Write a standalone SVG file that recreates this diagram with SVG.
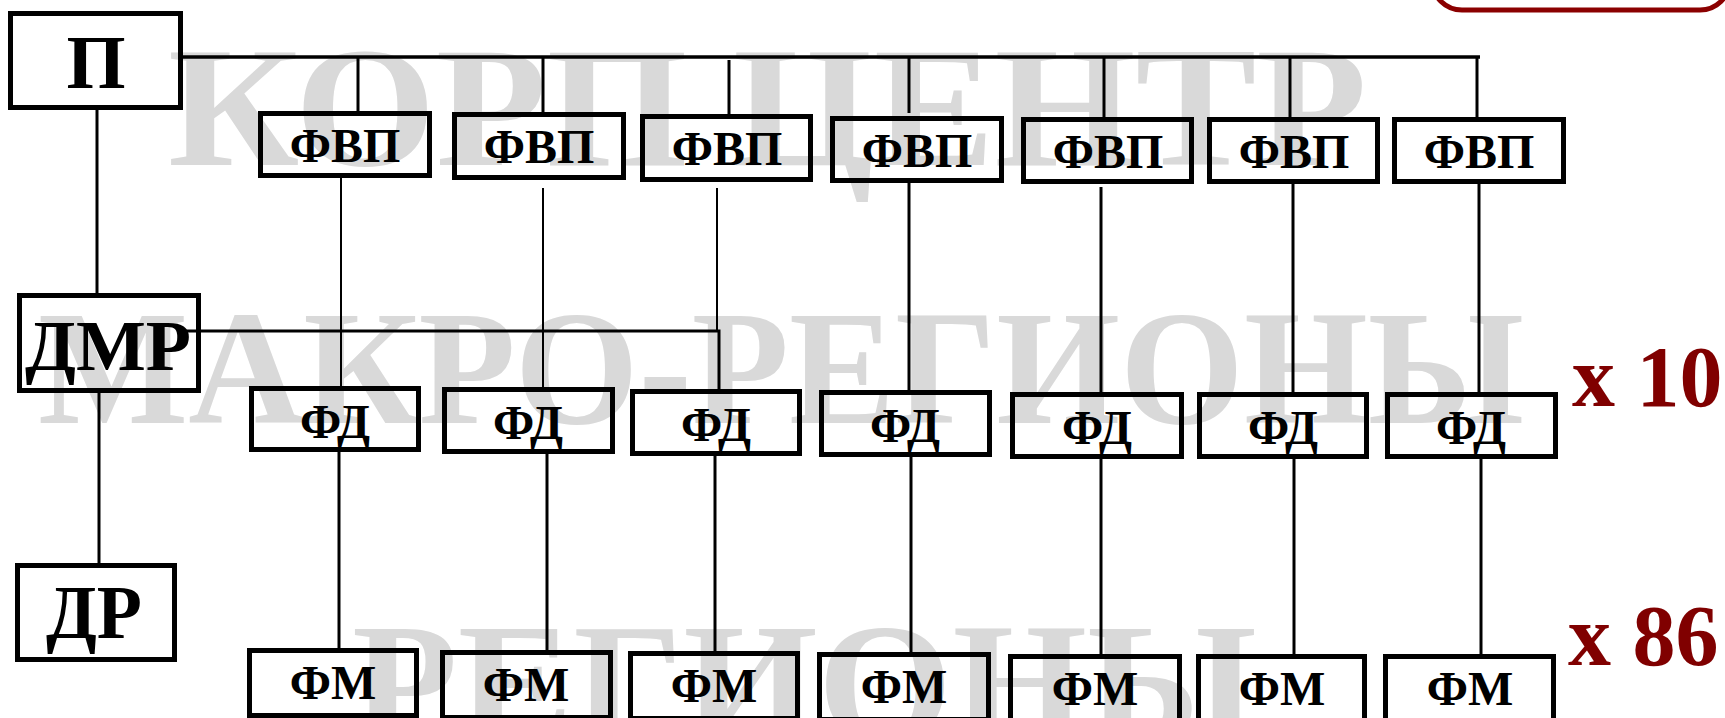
<svg xmlns="http://www.w3.org/2000/svg" width="1725" height="718" viewBox="0 0 1725 718">
<style>
.wm{font-family:"Liberation Serif","Times New Roman",serif;fill:#d9d9d9;font-weight:bold}
.bx{fill:none;stroke:#000;stroke-width:5}
.t{font-family:"Liberation Serif","Times New Roman",serif;font-weight:bold;fill:#000;text-anchor:middle}
.s{font-size:48px}
.L{font-size:76px}
.red{font-family:"Liberation Serif","Times New Roman",serif;font-weight:bold;fill:#800000;font-size:86px}
.c{stroke:#000;fill:none}
</style>
<rect x="0" y="0" width="1725" height="718" fill="#fff"/>
<g id="watermark">
<text class="wm" x="168" y="165" font-size="172" textLength="1199" lengthAdjust="spacingAndGlyphs">КОРП ЦЕНТР</text>
<text class="wm" x="38" y="423" font-size="163" textLength="1486" lengthAdjust="spacingAndGlyphs">МАКРО-РЕГИОНЫ</text>
<text class="wm" x="352" y="740" font-size="170" textLength="905" lengthAdjust="spacingAndGlyphs">РЕГИОНЫ</text>
</g>
<rect x="1432" y="-50" width="298" height="60" rx="30" fill="none" stroke="#8b0000" stroke-width="5"/>
<g id="connectors">
<g class="c" stroke-width="3">
<line x1="97" y1="110" x2="97" y2="293"/>
<line x1="99" y1="393" x2="99" y2="563"/>
<line x1="183" y1="57" x2="1480" y2="57" stroke-width="3.5"/>
<line x1="358" y1="57" x2="358" y2="111"/>
<line x1="543" y1="57" x2="543" y2="112"/>
<line x1="729" y1="60" x2="729" y2="114"/>
<line x1="909" y1="57" x2="909" y2="113"/>
<line x1="1104" y1="57" x2="1104" y2="117"/>
<line x1="1290" y1="57" x2="1290" y2="117"/>
<line x1="1477" y1="57" x2="1477" y2="117"/>
<line x1="909" y1="183" x2="909" y2="390"/>
<line x1="1101" y1="187" x2="1101" y2="392"/>
<line x1="1293" y1="184" x2="1293" y2="392"/>
<line x1="1479" y1="184" x2="1479" y2="392"/>
<polyline points="180,331 719,331 719,389"/>
<line x1="339" y1="452" x2="339" y2="648"/>
<line x1="547" y1="454" x2="547" y2="650"/>
<line x1="715" y1="456" x2="715" y2="651"/>
<line x1="911" y1="457" x2="911" y2="652"/>
<line x1="1101" y1="459" x2="1101" y2="654"/>
<line x1="1294" y1="459" x2="1294" y2="654"/>
<line x1="1481" y1="459" x2="1481" y2="654"/>
</g>
<g class="c" stroke-width="2">
<line x1="341" y1="178" x2="341" y2="386"/>
<line x1="543" y1="188" x2="543" y2="387"/>
<line x1="717" y1="188" x2="717" y2="331"/>
</g>
</g>
<g id="P"><rect class="bx" x="10.5" y="13.5" width="170" height="94"/><text class="t L" x="96" y="88">П</text></g>
<g id="DMR"><rect class="bx" x="19.5" y="295.5" width="179" height="95"/><text class="t" x="108" y="370" font-size="72" textLength="166" lengthAdjust="spacingAndGlyphs">ДМР</text></g>
<g id="DR"><rect class="bx" x="17.5" y="565.5" width="157" height="94"/><text class="t" x="94" y="638" font-size="76" textLength="96" lengthAdjust="spacingAndGlyphs">ДР</text></g>
<g id="FVP1"><rect class="bx" x="260.5" y="113.5" width="169" height="62"/><text class="t s" x="345" y="162">ФВП</text></g>
<g id="FVP2"><rect class="bx" x="454.5" y="114.5" width="169" height="63"/><text class="t s" x="539" y="163">ФВП</text></g>
<g id="FVP3"><rect class="bx" x="642.5" y="116.5" width="168" height="63"/><text class="t s" x="727" y="165">ФВП</text></g>
<g id="FVP4"><rect class="bx" x="832.5" y="118.5" width="169" height="62"/><text class="t s" x="917" y="167">ФВП</text></g>
<g id="FVP5"><rect class="bx" x="1023.5" y="119.5" width="168" height="62"/><text class="t s" x="1108" y="168">ФВП</text></g>
<g id="FVP6"><rect class="bx" x="1209.5" y="119.5" width="168" height="62"/><text class="t s" x="1294" y="168">ФВП</text></g>
<g id="FVP7"><rect class="bx" x="1394.5" y="119.5" width="169" height="62"/><text class="t s" x="1479" y="168">ФВП</text></g>
<g id="FD1"><rect class="bx" x="251.5" y="388.5" width="167" height="61"/><text class="t s" x="335" y="438">ФД</text></g>
<g id="FD2"><rect class="bx" x="444.5" y="389.5" width="168" height="62"/><text class="t s" x="528" y="439">ФД</text></g>
<g id="FD3"><rect class="bx" x="632.5" y="391.5" width="167" height="62"/><text class="t s" x="716" y="441">ФД</text></g>
<g id="FD4"><rect class="bx" x="821.5" y="392.5" width="168" height="62"/><text class="t s" x="905" y="442">ФД</text></g>
<g id="FD5"><rect class="bx" x="1012.5" y="394.5" width="169" height="62"/><text class="t s" x="1097" y="444">ФД</text></g>
<g id="FD6"><rect class="bx" x="1199.5" y="394.5" width="167" height="62"/><text class="t s" x="1283" y="444">ФД</text></g>
<g id="FD7"><rect class="bx" x="1387.5" y="394.5" width="168" height="62"/><text class="t s" x="1471" y="444">ФД</text></g>
<g id="FM1"><rect class="bx" x="249.5" y="650.5" width="167" height="65"/><text class="t s" x="333" y="699">ФМ</text></g>
<g id="FM2"><rect class="bx" x="442.5" y="652.5" width="168" height="65"/><text class="t s" x="526" y="701">ФМ</text></g>
<g id="FM3"><rect class="bx" x="630.5" y="653.5" width="167" height="65"/><text class="t s" x="714" y="702">ФМ</text></g>
<g id="FM4"><rect class="bx" x="819.5" y="654.5" width="169" height="65"/><text class="t s" x="904" y="703">ФМ</text></g>
<g id="FM5"><rect class="bx" x="1010.5" y="656.5" width="169" height="65"/><text class="t s" x="1095" y="705">ФМ</text></g>
<g id="FM6"><rect class="bx" x="1198.5" y="656.5" width="166" height="65"/><text class="t s" x="1282" y="705">ФМ</text></g>
<g id="FM7"><rect class="bx" x="1385.5" y="656.5" width="168" height="65"/><text class="t s" x="1470" y="705">ФМ</text></g>
<g id="x10"><text class="red" x="1572" y="406">x 10</text></g>
<g id="x86"><text class="red" x="1568" y="665">x 86</text></g>
</svg>
